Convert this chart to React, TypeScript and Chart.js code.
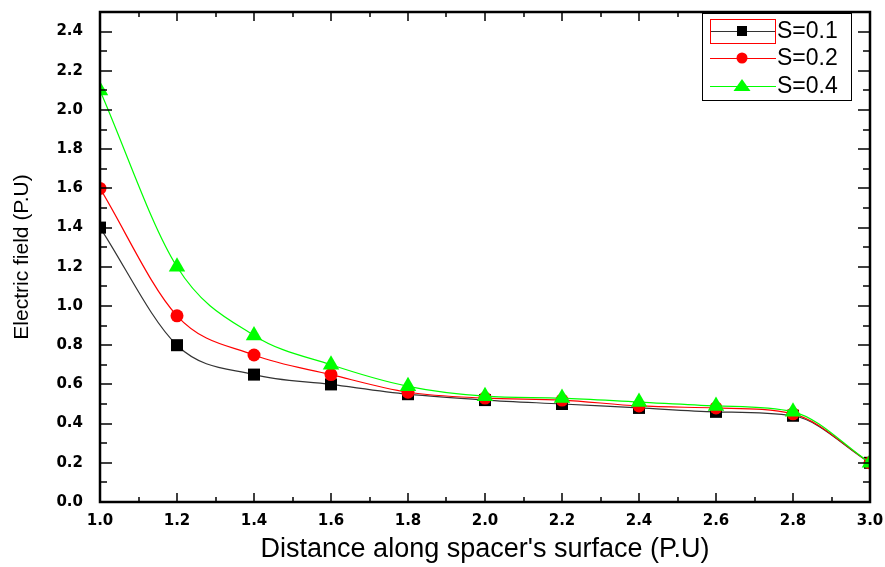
import React, { useEffect, useRef } from "react";
import { Chart, registerables } from "chart.js";

Chart.register(...registerables);

const xValues = [1.0, 1.2, 1.4, 1.6, 1.8, 2.0, 2.2, 2.4, 2.6, 2.8, 3.0];
const s01 = [1.4, 0.8, 0.65, 0.6, 0.55, 0.52, 0.5, 0.48, 0.46, 0.44, 0.2];
const s02 = [1.6, 0.95, 0.75, 0.65, 0.56, 0.53, 0.52, 0.49, 0.48, 0.45, 0.2];
const s04 = [2.1, 1.2, 0.85, 0.7, 0.59, 0.54, 0.53, 0.51, 0.49, 0.46, 0.2];
const seriesLabels = ["S=0.1", "S=0.2", "S=0.4"];
const xTickValues = [1.0, 1.2, 1.4, 1.6, 1.8, 2.0, 2.2, 2.4, 2.6, 2.8, 3.0];
const yTickValues = [0.0, 0.2, 0.4, 0.6, 0.8, 1.0, 1.2, 1.4, 1.6, 1.8, 2.0, 2.2, 2.4];
const xTitle = "Distance along spacer's surface (P.U)";
const yTitle = "Electric field (P.U)";

const framePlugin = {
  id: "frameTicks",
  afterDatasetsDraw(chart: any) {
    const { ctx, chartArea } = chart;
    const xs = chart.scales.x;
    const ys = chart.scales.y;
    const { left, right, top, bottom } = chartArea;
    ctx.save();
    ctx.strokeStyle = "#000";
    ctx.lineWidth = 1.5;
    for (let i = 0; i <= 20; i++) {
      const v = 1 + i * 0.1;
      const px = Math.round(xs.getPixelForValue(v));
      const len = i % 2 === 0 ? 9 : 5;
      ctx.beginPath();
      ctx.moveTo(px, bottom);
      ctx.lineTo(px, bottom - len);
      ctx.moveTo(px, top);
      ctx.lineTo(px, top + len);
      ctx.stroke();
    }
    for (let i = 0; i <= 25; i++) {
      const v = i * 0.1;
      const py = Math.round(ys.getPixelForValue(v));
      const len = i % 2 === 0 ? 12 : 7;
      ctx.beginPath();
      ctx.moveTo(left, py);
      ctx.lineTo(left + len, py);
      ctx.moveTo(right, py);
      ctx.lineTo(right - len, py);
      ctx.stroke();
    }
    ctx.lineWidth = 2.5;
    ctx.strokeRect(left, top, right - left, bottom - top);
    ctx.restore();
  },
  afterDraw(chart: any) {
    const { ctx } = chart;
    ctx.save();
    const bx = 702, by = 13, bw = 149, bh = 87;
    ctx.fillStyle = "#fff";
    ctx.fillRect(bx, by, bw, bh);
    ctx.strokeStyle = "#000";
    ctx.lineWidth = 1;
    ctx.strokeRect(bx + 0.5, by + 0.5, bw, bh);
    const rows = [31, 58, 86];
    chart.data.datasets.forEach((ds: any, i: number) => {
      const y = rows[i];
      ctx.strokeStyle = ds.borderColor;
      ctx.lineWidth = 1;
      ctx.beginPath();
      ctx.moveTo(710, y + 0.5);
      ctx.lineTo(776, y + 0.5);
      ctx.stroke();
      ctx.fillStyle = ds.pointBackgroundColor;
      const cx = 742;
      if (ds.pointStyle === "rect") {
        ctx.fillRect(cx - 5, y - 5, 10, 10);
      } else if (ds.pointStyle === "circle") {
        ctx.beginPath();
        ctx.arc(cx, y, 5.5, 0, Math.PI * 2);
        ctx.fill();
      } else {
        ctx.beginPath();
        ctx.moveTo(cx, y - 7);
        ctx.lineTo(cx + 8.5, y + 5);
        ctx.lineTo(cx - 8.5, y + 5);
        ctx.closePath();
        ctx.fill();
      }
      ctx.fillStyle = "#000";
      ctx.font = "23px 'Liberation Sans', Arial, sans-serif";
      ctx.textBaseline = "middle";
      ctx.textAlign = "left";
      ctx.fillText(ds.label, 777, y + 1);
    });
    ctx.strokeStyle = "#ff0000";
    ctx.lineWidth = 1;
    ctx.strokeRect(710.5, 19.5, 65, 24);
    ctx.restore();
  },
};

const zeroPad = (s: any) => {
  s.paddingTop = 0;
  s.paddingBottom = 0;
  s.paddingLeft = 0;
  s.paddingRight = 0;
};

export default function App() {
  const ref = useRef<HTMLCanvasElement>(null);
  useEffect(() => {
    if (!ref.current) return;
    const mk = (vals: number[]) => xValues.map((x, i) => ({ x, y: vals[i] }));
    const chart = new Chart(ref.current, {
      type: "line",
      data: {
        datasets: [
          {
            label: seriesLabels[0],
            data: mk(s01),
            borderColor: "#333333",
            backgroundColor: "#000000",
            pointBackgroundColor: "#000000",
            pointBorderColor: "#000000",
            pointBorderWidth: 0,
            pointStyle: "rect",
            pointRadius: 8.5,
            borderWidth: 1.2,
            cubicInterpolationMode: "monotone",
            clip: 0,
            order: 3,
          },
          {
            label: seriesLabels[1],
            data: mk(s02),
            borderColor: "#ff0000",
            backgroundColor: "#ff0000",
            pointBackgroundColor: "#ff0000",
            pointBorderColor: "#ff0000",
            pointBorderWidth: 0,
            pointStyle: "circle",
            pointRadius: 6.5,
            borderWidth: 1.2,
            cubicInterpolationMode: "monotone",
            clip: 0,
            order: 2,
          },
          {
            label: seriesLabels[2],
            data: mk(s04),
            borderColor: "#00ff00",
            backgroundColor: "#00ff00",
            pointBackgroundColor: "#00ff00",
            pointBorderColor: "#00ff00",
            pointBorderWidth: 0,
            pointStyle: "triangle",
            pointRadius: 9.5,
            borderWidth: 1.2,
            cubicInterpolationMode: "monotone",
            clip: 0,
            order: 1,
          },
        ] as any,
      },
      options: {
        responsive: false,
        animation: false,
        layout: { padding: { top: 12, right: 15, left: 0, bottom: 0 } },
        plugins: { legend: { display: false }, tooltip: { enabled: false } },
        scales: {
          x: {
            type: "linear",
            min: 1,
            max: 3,
            grid: { display: false, drawTicks: false },
            border: { display: false },
            afterBuildTicks: (s: any) => {
              s.ticks = xTickValues.map((v) => ({ value: v }));
            },
            afterFit: (s: any) => {
              s.height = 65;
              zeroPad(s);
            },
            ticks: {
              autoSkip: false,
              maxRotation: 0,
              padding: 10,
              color: "#000",
              font: { family: "'DejaVu Sans', sans-serif", size: 15, weight: "bold" },
              callback: (v: any) => Number(v).toFixed(1),
            },
            title: {
              display: true,
              text: xTitle,
              color: "#000",
              font: { family: "'Liberation Sans', Arial, sans-serif", size: 27 },
              padding: { top: 0, bottom: 1 },
            },
          },
          y: {
            type: "linear",
            min: 0,
            max: 2.5,
            grid: { display: false, drawTicks: false },
            border: { display: false },
            afterBuildTicks: (s: any) => {
              s.ticks = yTickValues.map((v) => ({ value: v }));
            },
            afterFit: (s: any) => {
              s.width = 100;
              zeroPad(s);
            },
            ticks: {
              autoSkip: false,
              padding: 17,
              color: "#000",
              font: { family: "'DejaVu Sans', sans-serif", size: 15, weight: "bold" },
              callback: (v: any) => Number(v).toFixed(1),
            },
            title: {
              display: true,
              text: yTitle,
              color: "#000",
              font: { family: "'Liberation Sans', Arial, sans-serif", size: 21 },
              padding: { top: 10, bottom: 0 },
            },
          },
        },
      } as any,
      plugins: [framePlugin],
    });
    return () => chart.destroy();
  }, []);
  return (
    <div style={{ position: "absolute", left: 0, top: 0, width: 885, height: 567, background: "#fff" }}>
      <canvas ref={ref} width={885} height={567} />
    </div>
  );
}
